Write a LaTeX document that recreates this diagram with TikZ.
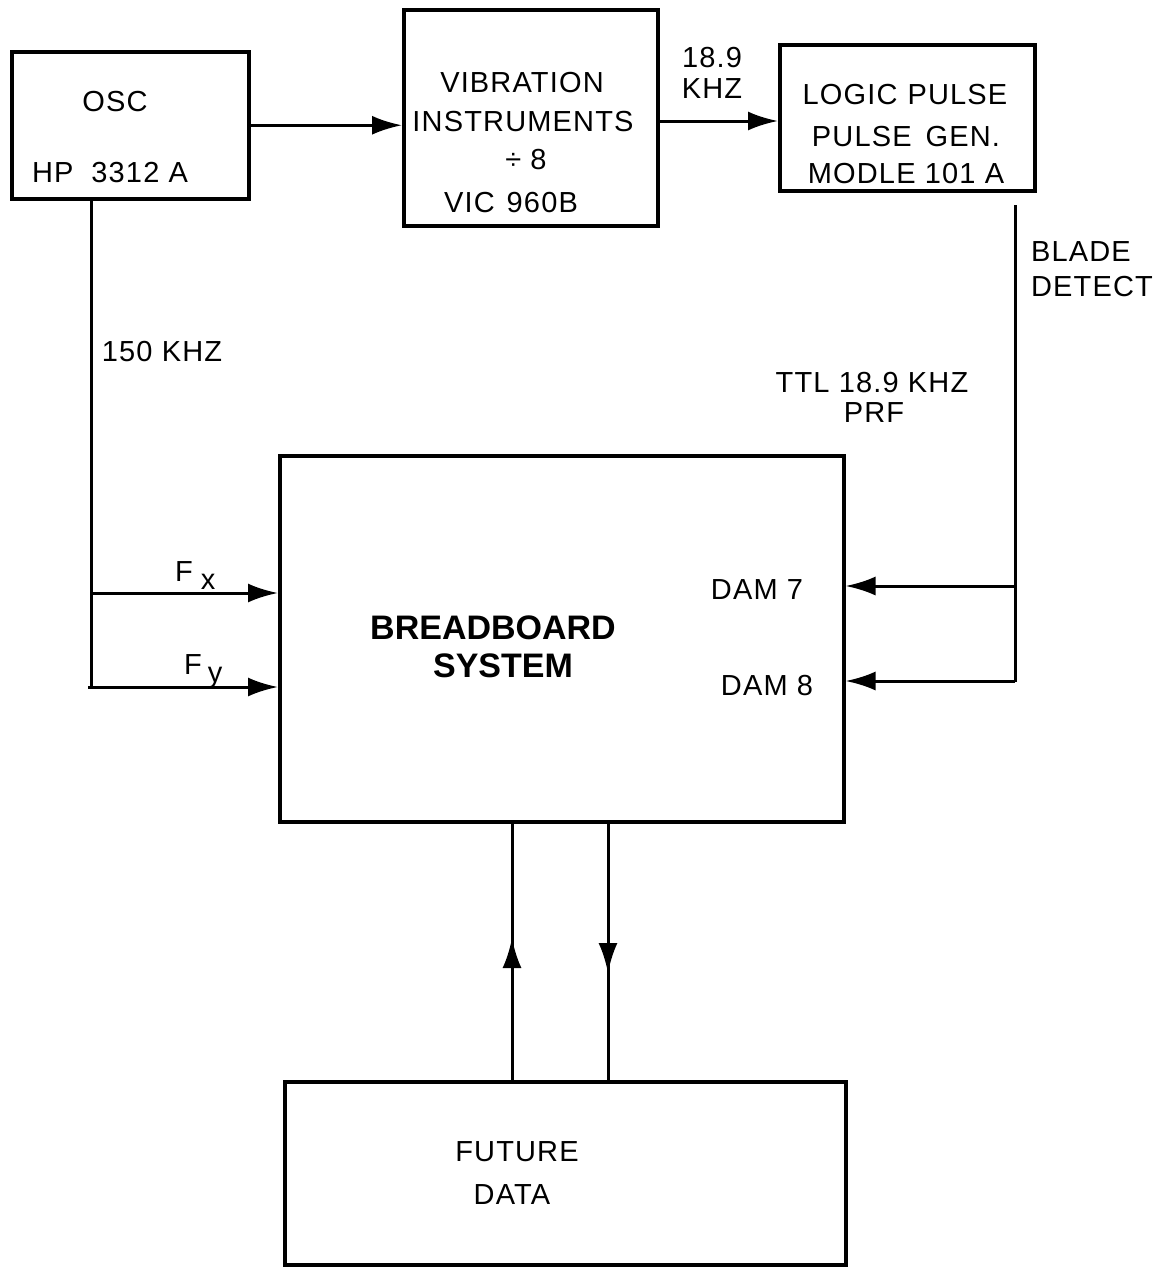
\documentclass[tikz,border=0pt]{standalone}
\usepackage{fontspec}
\setmainfont{Liberation Sans}[LetterSpace=4]
\usetikzlibrary{arrows.meta}
\begin{document}
\begin{tikzpicture}[x=1pt,y=-1pt,
  box/.style={draw, line width=3.5pt, rectangle, anchor=north west, inner sep=0pt},
  lbl/.style={font=\fontsize{29}{31}\selectfont, inner sep=0pt},
  big/.style={font=\fontsize{34}{36}\selectfont\bfseries\addfontfeature{LetterSpace=0}, inner sep=0pt},
  conn/.style={line width=3pt},
  arr/.style={conn, -{Latex[length=30pt,width=19pt]}}]
\useasboundingbox (0,0) rectangle (1157,1267);

% boxes
\node[box, minimum width=237pt, minimum height=147pt] (osc) at (10,50) {};
\node[box, minimum width=254pt, minimum height=216pt] (vib) at (402,8) {};
\node[box, minimum width=255pt, minimum height=146pt] (logic) at (778,43) {};
\node[box, minimum width=564pt, minimum height=366pt] (bb) at (278,454) {};
\node[box, minimum width=561pt, minimum height=183pt] (fut) at (283,1080) {};

% texts
\node[lbl] (toscA) at (115,102) {OSC};
\node[lbl] (toscB) at (110,173) {HP\hspace{18pt}3312 A};
\node[lbl] (tvibA) at (522,83) {VIBRATION};
\node[lbl] (tvibB) at (523,122) {INSTRUMENTS};
\node[lbl] (tvibC) at (526,160) {÷ 8};
\node[lbl] (tvibD) at (511,203) {VIC\hspace{12pt}960B};
\node[lbl] (tfa) at (712,58) {18.9};
\node[lbl] (tfb) at (712,89) {KHZ};
\node[lbl] (tlogA) at (905,95) {LOGIC\hspace{10pt}PULSE};
\node[lbl] (tlogB) at (906,137) {PULSE\hspace{14pt}GEN.};
\node[lbl] (tlogC) at (906,174) {MODLE 101 A};
\node[lbl] (tblA) at (1081,252) {BLADE};
\node[lbl] (tblB) at (1092,287) {DETECT};
\node[lbl] (t150) at (162,352) {150 KHZ};
\node[lbl] (tttlA) at (872,383) {TTL 18.9 KHZ};
\node[lbl] (tttlB) at (874,413) {PRF};
\node[lbl, anchor=base west] (tfx) at (175,581) {F\hspace{8pt}\raisebox{-8pt}{x}};
\node[lbl, anchor=base west] (tfy) at (184,674) {F\hspace{6pt}\raisebox{-8pt}{y}};
\node[big] (tbbA) at (493,628) {BREADBOARD};
\node[big] (tbbB) at (503,666) {SYSTEM};
\node[lbl] (tdam7) at (757,590) {DAM 7};
\node[lbl] (tdam8) at (767,686) {DAM 8};
\node[lbl] (tfutA) at (517,1152) {FUTURE};
\node[lbl] (tfutB) at (512,1195) {DATA};

% top chain
\coordinate (ra) at (656,121);
\draw[arr] (osc.east) -- (osc.east -| vib.west);
\draw[arr] (ra -| vib.east) -- (ra -| logic.west);

% left feed
\coordinate (lcorner) at (91,687);
\coordinate (fxs) at (91,593);
\coordinate (fys) at (88,687);
\draw[conn] (osc.south -| lcorner) -- (lcorner);
\draw[arr] (fxs) -- (fxs -| bb.west);
\draw[arr] (fys) -- (fys -| bb.west);

% right feed
\coordinate (rtop) at (1015,205);
\coordinate (rbot) at (1015,682);
\coordinate (d7) at (1015,586);
\coordinate (d8) at (1015,681);
\draw[conn] (rtop) -- (rbot);
\draw[arr] (d7) -- (d7 -| bb.east);
\draw[arr] (d8) -- (d8 -| bb.east);

% bottom links
\coordinate (upTip) at (512,938);
\coordinate (dnTip) at (608,973);
\draw[conn] (upTip |- fut.north) -- (upTip |- bb.south);
\draw[arr] (upTip |- fut.north) -- (upTip);
\draw[conn] (dnTip |- bb.south) -- (dnTip |- fut.north);
\draw[arr] (dnTip |- bb.south) -- (dnTip);
\end{tikzpicture}
\end{document}
